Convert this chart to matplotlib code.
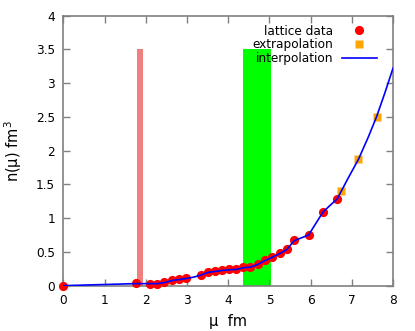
import matplotlib
matplotlib.use("Agg")
import matplotlib.pyplot as plt

# lattice data
lat_x = [0.0, 1.76, 2.10, 2.28, 2.45, 2.63, 2.80, 2.97, 3.33, 3.50, 3.67, 3.85,
         4.02, 4.19, 4.37, 4.54, 4.72, 4.90, 5.07, 5.25, 5.42, 5.60, 5.95, 6.30, 6.65]
lat_y = [0.0, 0.036, 0.03, 0.03, 0.05, 0.085, 0.095, 0.11, 0.16, 0.20, 0.21, 0.23,
         0.24, 0.24, 0.27, 0.27, 0.32, 0.38, 0.42, 0.48, 0.54, 0.67, 0.75, 1.09, 1.29]

# extrapolation
ext_x = [6.73, 7.16, 7.60]
ext_y = [1.40, 1.87, 2.50]

# interpolation curve
int_x = [0.0, 1.76, 2.10, 2.28, 2.45, 2.63, 2.80, 2.97, 3.15, 3.33, 3.50, 3.67, 3.85,
         4.02, 4.19, 4.37, 4.54, 4.72, 4.90, 5.07, 5.25, 5.42, 5.60, 5.95, 6.30, 6.65,
         6.90, 7.16, 7.40, 7.60, 7.80, 8.00]
int_y = [0.0, 0.03, 0.03, 0.03, 0.045, 0.075, 0.09, 0.105, 0.125, 0.155, 0.195, 0.21, 0.225,
         0.235, 0.24, 0.265, 0.275, 0.315, 0.375, 0.42, 0.475, 0.535, 0.665, 0.75, 1.09, 1.29,
         1.58, 1.87, 2.20, 2.50, 2.85, 3.22]

# shaded bands (x ranges, height)
pink_band = (1.79, 1.94)
green_band = (4.36, 5.05)
band_top = 3.5

x_ticks = [0, 1, 2, 3, 4, 5, 6, 7, 8]
x_labels = ["0", "1", "2", "3", "4", "5", "6", "7", "8"]
y_ticks = [0, 0.5, 1, 1.5, 2, 2.5, 3, 3.5, 4]
y_labels = ["0", "0.5", "1", "1.5", "2", "2.5", "3", "3.5", "4"]

fig = plt.figure(figsize=(4.15, 3.31), dpi=100)
ax = fig.add_axes([0.153, 0.137, 0.794, 0.816])

ax.fill_between(pink_band, 0, band_top, color="#f08080", lw=0, zorder=1)
ax.fill_between(green_band, 0, band_top, color="#00ff00", lw=0, zorder=1)

ax.plot(lat_x, lat_y, "o", color="#ff0000", ms=6.6, mec="none", label="lattice data",
        zorder=3, clip_on=False)
ax.plot(ext_x, ext_y, "s", color="#ffa500", ms=6.0, mec="none", label="extrapolation", zorder=3)
ax.plot(int_x, int_y, "-", color="#0000ff", lw=1.2, label="interpolation", zorder=4)

ax.set_xlim(0, 8)
ax.set_ylim(0, 4)
ax.set_xticks(x_ticks)
ax.set_xticklabels(x_labels)
ax.set_yticks(y_ticks)
ax.set_yticklabels(y_labels)
ax.tick_params(direction="in", top=True, right=True, length=5, width=1,
               color="#808080", labelsize=8.7, labelcolor="#000000", pad=6)
for s in ax.spines.values():
    s.set_color("#808080")
    s.set_linewidth(1.2)

ax.set_xlabel("μ  fm", fontsize=10.5, labelpad=5)
ax.set_ylabel("n(μ) fm$^3$", fontsize=10.5, labelpad=9)

leg = ax.legend(loc="upper right", bbox_to_anchor=(0.978, 1.0), frameon=False,
                markerfirst=False, fontsize=8.7, handlelength=2.9, handletextpad=0.7,
                labelspacing=0.06, borderaxespad=0.35)
leg.set_zorder(6)

fig.savefig("out.png", dpi=100)
